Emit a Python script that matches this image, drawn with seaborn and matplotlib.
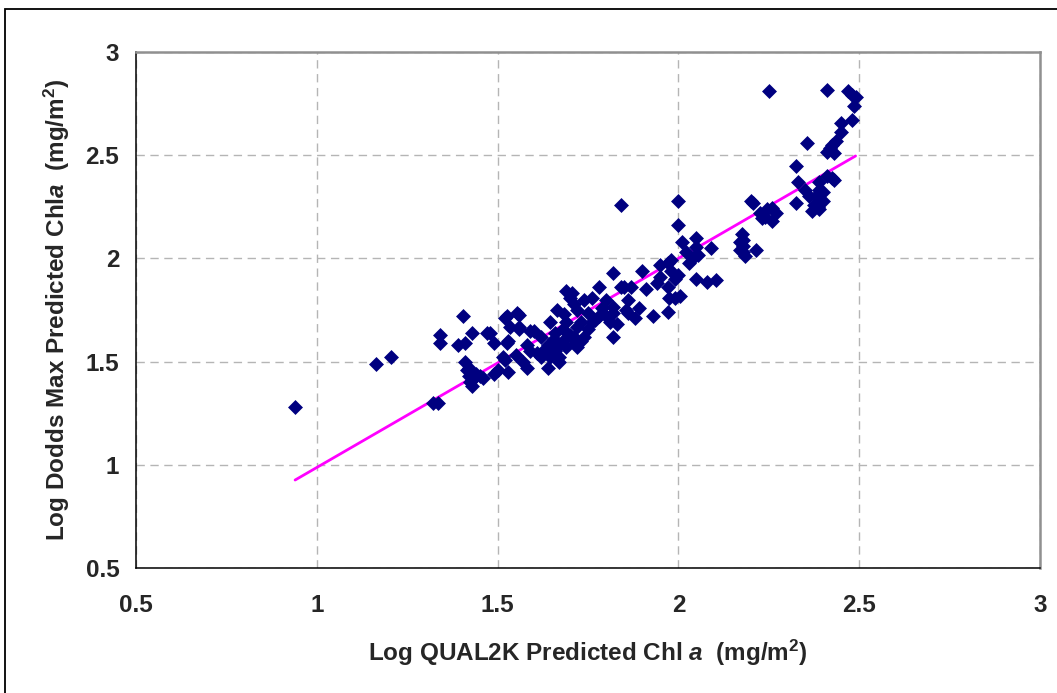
import numpy as np
import pandas as pd
import matplotlib
matplotlib.use("Agg")
import matplotlib.pyplot as plt
from matplotlib.patches import Rectangle
from matplotlib.ticker import FuncFormatter
import seaborn as sns

# Log QUAL2K predicted Chl a vs log Dodds max predicted Chl a
q2k_log = [
    0.94, 1.165, 1.205, 1.32, 1.335,
    1.34, 1.34, 1.39, 1.405, 1.41, 1.43,
    1.41, 1.415, 1.42, 1.425, 1.43, 1.42, 1.44, 1.45, 1.43, 1.46, 1.47, 1.48, 1.49, 1.49, 1.50,
    1.52, 1.525, 1.52, 1.53, 1.525, 1.535, 1.555, 1.56, 1.56, 1.56, 1.57, 1.58, 1.58, 1.59, 1.60,
    1.59, 1.53, 1.55, 1.515,
    1.62, 1.62, 1.645, 1.645, 1.665, 1.66, 1.665, 1.67, 1.69, 1.69, 1.70, 1.69, 1.70, 1.68, 1.66,
    1.64, 1.68, 1.67, 1.64, 1.61, 1.63, 1.655, 1.685,
    1.72, 1.73, 1.72, 1.74, 1.75, 1.76, 1.76, 1.78, 1.78, 1.80, 1.80, 1.72, 1.74, 1.71, 1.77,
    1.73, 1.75, 1.71, 1.705, 1.715, 1.79,
    1.82, 1.82, 1.82, 1.82, 1.84, 1.84, 1.855, 1.85, 1.86, 1.87, 1.88, 1.89, 1.90, 1.91, 1.83,
    1.81, 1.86,
    1.93, 1.94, 1.95, 1.95, 1.97, 1.97, 1.97, 1.975, 1.98, 1.98, 1.99, 1.99,
    2.00, 2.00, 2.01, 2.00, 2.005, 2.04, 2.05, 2.05, 2.055, 2.05, 2.08, 2.09, 2.105, 2.03, 2.02,
    2.17, 2.175, 2.18, 2.18, 2.18, 2.185, 2.215, 2.20, 2.205, 2.225, 2.23, 2.245, 2.26, 2.26,
    2.27, 2.25, 2.24, 2.17,
    2.325, 2.325, 2.33, 2.355, 2.36, 2.37, 2.375, 2.38, 2.39, 2.39, 2.40, 2.385, 2.41, 2.41,
    2.425, 2.43, 2.43, 2.42, 2.425, 2.435, 2.45, 2.45, 2.41, 2.47, 2.48, 2.49, 2.485, 2.48,
    2.39, 2.40, 2.35,
]
dodds_log = [
    1.28, 1.49, 1.52, 1.30, 1.30,
    1.63, 1.59, 1.58, 1.72, 1.59, 1.64,
    1.50, 1.46, 1.43, 1.40, 1.38, 1.47, 1.44, 1.43, 1.41, 1.42, 1.64, 1.64, 1.59, 1.44, 1.46,
    1.71, 1.59, 1.51, 1.45, 1.72, 1.67, 1.735, 1.725, 1.67, 1.66, 1.50, 1.47, 1.58, 1.65, 1.65,
    1.55, 1.60, 1.53, 1.52,
    1.62, 1.52, 1.52, 1.69, 1.75, 1.64, 1.57, 1.52, 1.84, 1.69, 1.63, 1.57, 1.81, 1.60, 1.55,
    1.58, 1.66, 1.50, 1.47, 1.54, 1.56, 1.61, 1.73,
    1.67, 1.60, 1.57, 1.80, 1.735, 1.81, 1.69, 1.86, 1.72, 1.80, 1.72, 1.75, 1.62, 1.78, 1.70,
    1.69, 1.66, 1.62, 1.83, 1.59, 1.76,
    1.93, 1.765, 1.735, 1.62, 1.86, 2.26, 1.75, 1.86, 1.735, 1.86, 1.71, 1.76, 1.94, 1.85, 1.68,
    1.69, 1.80,
    1.72, 1.88, 1.97, 1.91, 1.98, 1.86, 1.74, 1.81, 1.94, 1.99, 1.81, 1.90,
    2.28, 2.16, 2.08, 1.92, 1.82, 2.00, 2.10, 2.055, 2.015, 1.90, 1.885, 2.05, 1.895, 1.98, 2.03,
    2.04, 2.12, 2.09, 2.06, 2.03, 2.01, 2.04, 2.28, 2.27, 2.22, 2.195, 2.24, 2.245, 2.18,
    2.22, 2.81, 2.20, 2.08,
    2.45, 2.27, 2.37, 2.56, 2.30, 2.23, 2.26, 2.30, 2.33, 2.37, 2.32, 2.25, 2.40, 2.515,
    2.39, 2.38, 2.51, 2.535, 2.55, 2.57, 2.61, 2.655, 2.815, 2.81, 2.79, 2.78, 2.74, 2.67,
    2.24, 2.28, 2.33,
]

# Excel linear trendline
trend_slope = 1.013
trend_intercept = -0.026

ticks = [0.5, 1, 1.5, 2, 2.5, 3]

df = pd.DataFrame({"q2k": q2k_log, "dodds": dodds_log})
trend_x = np.array([df["q2k"].min(), df["q2k"].max()])
trend = pd.DataFrame({"x": trend_x, "y": trend_slope * trend_x + trend_intercept})

sns.set_style("white")
plt.rcParams["font.family"] = ["Liberation Sans", "DejaVu Sans"]
plt.rcParams["mathtext.fontset"] = "custom"
plt.rcParams["mathtext.rm"] = "Liberation Sans:bold"
plt.rcParams["mathtext.it"] = "Liberation Sans:italic:bold"

fig = plt.figure(figsize=(10.57, 6.93), dpi=100)
ax = fig.add_axes([136 / 1057, 1 - 568 / 693, (1040 - 136) / 1057, (568 - 52) / 693])

sns.lineplot(data=trend, x="x", y="y", color="#FF00FF", linewidth=2.0, ax=ax, zorder=2)
sns.scatterplot(data=df, x="q2k", y="dodds", marker="D", s=58, color="#000080",
                edgecolor="#000080", linewidth=0, ax=ax, zorder=3)

ax.set_xlim(0.5, 3)
ax.set_ylim(0.5, 3)
ax.set_xticks(ticks)
ax.set_yticks(ticks)
fmt = FuncFormatter(lambda v, p: f"{v:g}")
ax.xaxis.set_major_formatter(fmt)
ax.yaxis.set_major_formatter(fmt)
ax.grid(True, linestyle=(0, (6, 4)), color="#b5b5b5", linewidth=1.0)
ax.set_axisbelow(True)

for side in ["left", "bottom"]:
    ax.spines[side].set_color("#000000")
    ax.spines[side].set_linewidth(1.1)
for side in ["top", "right"]:
    ax.spines[side].set_color("#909090")
    ax.spines[side].set_linewidth(1.8)

ax.tick_params(axis="both", direction="out", length=6, width=1, color="#000000",
               labelsize=17.5)
ax.tick_params(axis="x", pad=13)
ax.tick_params(axis="y", pad=6)
for lab in ax.get_xticklabels() + ax.get_yticklabels():
    lab.set_fontweight("bold")

ax.set_xlabel(r"Log QUAL2K Predicted Chl $\mathit{a}$  (mg/m$^{\mathrm{2}}$)",
              fontsize=17.5, fontweight="bold", labelpad=15)
ax.set_ylabel(r"Log Dodds Max Predicted Chl$\mathit{a}$  (mg/m$^{\mathrm{2}}$)",
              fontsize=17.5, fontweight="bold", labelpad=10)

# outer chart-area border
fig.patches.append(Rectangle((5 / 1057, -0.05), 1.1, 1 - 9 / 693 + 0.05,
                             transform=fig.transFigure, fill=False,
                             edgecolor="#000000", linewidth=1.3))

fig.savefig("out.png", dpi=100)
plt.close(fig)
